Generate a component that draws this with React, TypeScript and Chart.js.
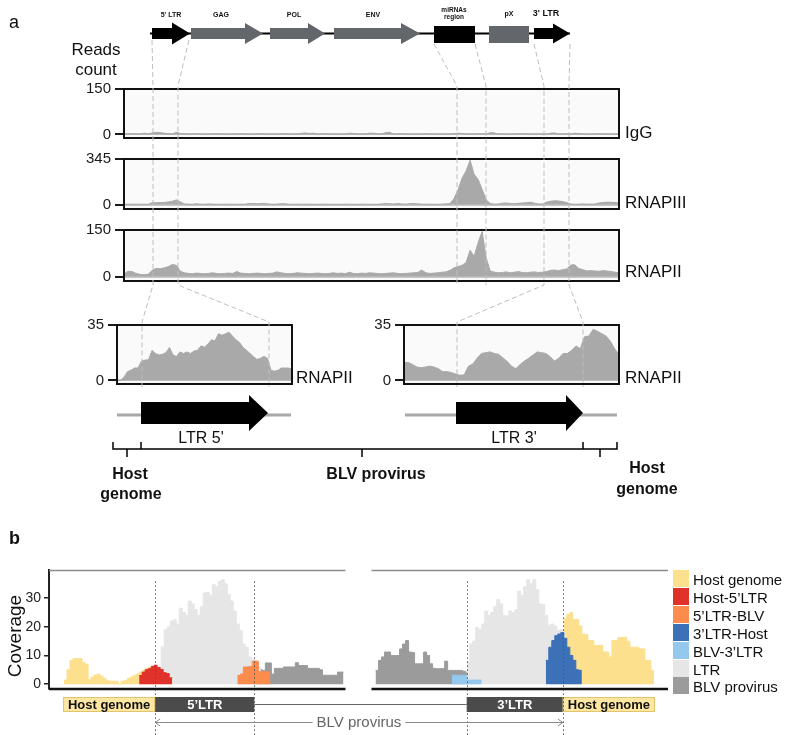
import React, { useEffect, useRef } from 'react';
import { Chart, registerables } from 'chart.js';

Chart.register(...registerables);

const FONT = '"Liberation Sans", Arial, Helvetica, sans-serif';
Chart.defaults.font.family = FONT;

// ---------------- Panel a : ChIP tracks (4px bins across the provirus) ----------------
const IGG = [1,1,2,1,1,4,1,5,7,6,4,2,1,7,3,2,
  1,1,2,1,1,1,1,2,1,1,1,1,1,2,1,1,1,1,2,1,1,1,1,1,2,1,1,1,
  3,5,3,4,1,1,2,1,1,1,1,1,4,3,1,1,1,4,4,1,1,6,7,
  1,1,2,1,1,1,1,1,2,1,1,1,1,1,1,2,4,3,1,1,1,2,1,1,6,5,
  1,1,1,1,1,2,1,2,1,1,1,1,1,4,5,1,1,2,1,4,3,1,1,1,1,2,1,1,1,1,1];
const RNAPIII = [3,2,3,2,2,3,2,14,13,15,16,20,25,35,20,5,
  3,2,6,3,2,5,3,2,2,3,2,2,2,3,2,7,8,6,7,8,4,2,3,6,6,2,2,3,
  2,2,3,2,2,2,3,2,2,2,2,3,2,2,2,3,2,2,2,2,
  5,7,6,4,7,5,3,6,7,5,3,2,3,2,2,3,5,
  8,45,110,200,255,335,230,190,115,35,8,
  3,4,10,12,8,6,9,12,14,18,10,5,4,18,25,29,27,22,15,4,3,3,5,3,3,4,12,15,18,17,16,10];
const RNAPII = [8,17,16,10,7,6,7,20,26,25,28,32,39,36,17,12,
  10,9,11,10,9,10,12,10,9,10,11,10,16,11,10,9,10,11,10,9,10,11,15,
  12,10,9,10,12,11,10,9,10,11,10,9,10,12,10,11,9,14,
  10,9,11,10,12,11,10,9,10,11,12,10,9,10,11,12,13,21,12,10,11,12,14,
  15,20,28,32,36,45,85,65,110,145,60,18,
  14,12,13,15,12,14,16,13,12,14,15,13,14,16,20,21,19,22,24,37,38,26,
  22,18,19,18,17,19,18,16,14,12];
const IGG_TICKS = [0, 150];
const RNAPIII_TICKS = [0, 345];
const RNAPII_TICKS = [0, 150];

// zoom on the two LTRs (RNAPII)
const ZOOM_5LTR = [0,0,2,5.5,6.4,7.8,7.8,12.2,12.8,13,18.9,17,16,16.5,17.5,20.8,16,15.1,18,17,
  18,17,18.5,19,21.8,21,23,25.6,25,29.5,28.5,29.5,30.4,28,25.6,24,20.8,19,17,15,
  13.2,14,15.1,14,6.4,5.8,6.4,7.8,7.8,7.8,7];
const ZOOM_3LTR = [11.3,11.3,10,8.4,8,8.4,9,8.4,7.4,5.5,5.5,5,4,3.2,3.5,9,10.3,14,17,17.5,
  18,17,16.5,14.2,12,9,7.4,10,12.2,14,16,18,17.5,17,15,12.2,14,17,17,19,
  21.8,20,27.6,28,32.3,31,29.5,28,24.7,20,16];
const ZOOM_TICKS = [0, 35];

// ---------------- Panel b : coverage (3px bins) ----------------
const HOST_LEFT = [1.4,5,8.3,8.9,8.9,8.9,7.5,7,1.5,2.5,3.2,3.5,2.8,2,1.2,1,1,1,0,1,1.2,2,2.5,3,3.5,4.2,4.8,5.5,5.8,6,6];
const HOST_5LTR = [3,4.2,5,5.4,6.2,6.6,5.8,5.1,4,3.7,2.2];
const LTR_LEFT = [2,6,13,19,20,22,22.5,21,26.5,25,24,29,28,26,24,27,31.8,32,31,34.7,34,35.9,36.5,35,31.3,29,25.5,21,18.6,14,12.9,9.5,8.5,7.7,6,4];
const LTR5_BLV = [3,3.5,6,6,6.2,8,8,4.3,4.3,4.3,4.3];
const BLV_LEFT = [8,5,5,4.8,7.4,7.4,3.5,5.5,5.5,5.5,6,6,6,6,7.5,6.5,6.5,6.5,5.5,5.5,5.5,5.5,5,3.1,3.1,3.1,3.1,3.1,4.2,4.2];
const BLV_RIGHT = [4.8,8.3,9.5,11.2,11.2,10,10,10,12.3,14,15.2,11.2,11,7.1,7.1,7.1,11.2,10,7.1,5.5,5.4,5.4,5.4,8,4.8,4.8,4.8,4.8,4.8,4.5,4];
const BLV_3LTR = [3.1,3.1,3.1,3.1,3.1,1.4,1.4,1.4,1.4,1.4];
const LTR_RIGHT = [8,14,15,19.8,19,21,25.5,24,25,27,29.5,28,24,23.8,25.5,25,26,32.4,31,34,36.4,35,36.4,33,28,27.8,24,20.3,21,20.3,18.6,19,18];
const LTR3_HOST = [8.3,12.9,15.2,16.9,17.5,18,16,12.9,10,8.3,5,4.8];
const HOST_RIGHT = [23,24.4,25,22.6,22.6,20.3,17.4,17.4,15.2,15.2,13.5,13.5,13.5,11.2,11.2,9.5,15.2,15.2,16.3,16.3,16.3,15,12.9,12.9,12.9,12.3,12.3,8.3,8.3,4.8];
const SERIES_START = [5, 30, 35.33, 62.67, 68, 108.67, 134, 139, 165.33, 171.33];
const COV_TICKS = [0, 10, 20, 30];
const PANELS: [number, number][] = [[0, 98.67], [107.33, 206]];
const REGION_LABELS = ['Host genome', '5\u2019LTR', '3\u2019LTR', 'Host genome'];
const REGION_START = [4.67, 35.33, 139, 171];
const REGION_END = [35.33, 68.33, 171, 201.67];

const C_HOST = '#fde08e';
const C_H5 = '#e0312b';
const C_5B = '#fc8c4e';
const C_3H = '#3c70b7';
const C_B3 = '#94c8ec';
const C_LTR = '#e6e6e6';
const C_BLV = '#9b9b9b';
const LEGEND_LABELS = ['Host genome', 'Host-5\u2019LTR', '5\u2019LTR-BLV', '3\u2019LTR-Host', 'BLV-3\u2019LTR', 'LTR', 'BLV provirus'];
const LEGEND_COLORS = [C_HOST, C_H5, C_5B, C_3H, C_B3, C_LTR, C_BLV];

// ---------------- helpers ----------------
const boxPlugin = {
  id: 'boxFrame',
  beforeDraw(chart: any) {
    const { ctx, chartArea: a } = chart;
    ctx.save();
    ctx.fillStyle = '#fafafa';
    ctx.fillRect(a.left, a.top, a.right - a.left, a.bottom - a.top);
    ctx.restore();
  },
  afterDatasetsDraw(chart: any) {
    const { ctx, chartArea: a } = chart;
    ctx.save();
    ctx.strokeStyle = '#111';
    ctx.lineWidth = 2;
    ctx.strokeRect(a.left, a.top, a.right - a.left, a.bottom - a.top);
    ctx.restore();
  },
};

function trackConfig(values: number[], ticks: number[], yMin: number, axisW: number) {
  const max = ticks[ticks.length - 1];
  return {
    type: 'line',
    data: {
      datasets: [{
        data: values.map((v, i) => ({ x: i, y: v })),
        fill: 'origin',
        backgroundColor: '#a9a9a9',
        borderColor: '#a9a9a9',
        borderWidth: 1,
        pointRadius: 0,
        tension: 0,
      }],
    },
    options: {
      responsive: false,
      animation: false,
      devicePixelRatio: 1,
      events: [],
      layout: { padding: { top: 10, bottom: 10, left: 0, right: 2 } },
      plugins: { legend: { display: false }, tooltip: { enabled: false } },
      scales: {
        x: { type: 'linear', display: false, min: 0, max: values.length - 1 },
        y: {
          min: yMin,
          max,
          afterBuildTicks: (s: any) => { s.ticks = ticks.map((v) => ({ value: v })); },
          afterFit: (s: any) => { s.width = axisW; },
          ticks: { font: { size: 15, family: FONT }, color: '#1a1a1a', padding: 4 },
          grid: {
            drawOnChartArea: true,
            color: (c: any) => (c.tick && c.tick.value === 0 ? '#c6c6c6' : 'rgba(0,0,0,0)'),
            tickColor: '#1a1a1a',
            tickLength: 9,
            lineWidth: 2,
          },
          border: { display: false },
        },
      },
    },
    plugins: [boxPlugin],
  };
}

function stepPoints(values: number[], start: number) {
  const pts = values.map((v, i) => ({ x: start + i, y: v }));
  pts.push({ x: start + values.length, y: values[values.length - 1] });
  return pts;
}

const covDecor = {
  id: 'covDecor',
  afterDatasetsDraw(chart: any) {
    const { ctx, chartArea: a, scales } = chart;
    const px = (v: number) => scales.x.getPixelForValue(v);
    ctx.save();
    // panel frames
    for (const [s, e] of PANELS) {
      ctx.strokeStyle = '#8c8c8c';
      ctx.lineWidth = 1.5;
      ctx.beginPath(); ctx.moveTo(px(s), a.top); ctx.lineTo(px(e), a.top); ctx.stroke();
      ctx.strokeStyle = '#111';
      ctx.lineWidth = 2.5;
      ctx.beginPath(); ctx.moveTo(px(s), a.bottom); ctx.lineTo(px(e), a.bottom); ctx.stroke();
    }
    // region bars
    const barTop = a.bottom + 8;
    const barH = 15;
    ctx.strokeStyle = '#666';
    ctx.lineWidth = 1;
    ctx.beginPath();
    ctx.moveTo(px(REGION_END[1]), barTop + barH / 2);
    ctx.lineTo(px(REGION_START[2]), barTop + barH / 2);
    ctx.stroke();
    REGION_LABELS.forEach((lab, i) => {
      const x0 = px(REGION_START[i]);
      const x1 = px(REGION_END[i]);
      const host = lab.startsWith('Host');
      ctx.fillStyle = host ? '#fde7a2' : '#4b4b4b';
      ctx.fillRect(x0, barTop, x1 - x0, barH);
      if (host) {
        ctx.strokeStyle = '#e3c46e';
        ctx.lineWidth = 1;
        ctx.strokeRect(x0 + 0.5, barTop + 0.5, x1 - x0 - 1, barH - 1);
      }
      ctx.fillStyle = host ? '#111' : '#fff';
      ctx.font = `bold 13px ${FONT}`;
      ctx.textAlign = 'center';
      ctx.textBaseline = 'middle';
      ctx.fillText(lab, (x0 + x1) / 2, barTop + barH / 2 + 1);
    });
    // dotted boundaries
    ctx.strokeStyle = '#555';
    ctx.lineWidth = 1;
    ctx.setLineDash([1.5, 2.5]);
    [REGION_START[1], REGION_END[1], REGION_START[2], REGION_END[2]].forEach((v) => {
      const x = Math.round(px(v)) + 0.5;
      ctx.beginPath(); ctx.moveTo(x, a.top + 11); ctx.lineTo(x, chart.height); ctx.stroke();
    });
    ctx.setLineDash([]);
    // BLV provirus arrow
    const y = a.bottom + 33.5;
    const xl = px(REGION_START[1]);
    const xr = px(REGION_END[2]);
    const xm = (xl + xr) / 2;
    ctx.font = `15px ${FONT}`;
    const tw = ctx.measureText('BLV provirus').width;
    ctx.fillStyle = '#666';
    ctx.textAlign = 'center';
    ctx.textBaseline = 'middle';
    ctx.fillText('BLV provirus', xm, y);
    ctx.strokeStyle = '#8a8a8a';
    ctx.lineWidth = 1;
    ctx.beginPath();
    ctx.moveTo(xl, y); ctx.lineTo(xm - tw / 2 - 4, y);
    ctx.moveTo(xm + tw / 2 + 4, y); ctx.lineTo(xr, y);
    ctx.moveTo(xl + 5, y - 3.5); ctx.lineTo(xl, y); ctx.lineTo(xl + 5, y + 3.5);
    ctx.moveTo(xr - 5, y - 3.5); ctx.lineTo(xr, y); ctx.lineTo(xr - 5, y + 3.5);
    ctx.stroke();
    ctx.restore();
  },
};

function coverageConfig() {
  const list: [number[], string, number][] = [
    [HOST_LEFT, C_HOST, 2], [HOST_5LTR, C_H5, 0], [LTR_LEFT, C_LTR, 1], [LTR5_BLV, C_5B, 0],
    [BLV_LEFT, C_BLV, 2], [BLV_RIGHT, C_BLV, 2], [BLV_3LTR, C_B3, 0], [LTR_RIGHT, C_LTR, 1],
    [LTR3_HOST, C_3H, 0], [HOST_RIGHT, C_HOST, 2],
  ];
  return {
    type: 'line',
    data: {
      datasets: list.map(([vals, col, order], i) => ({
        data: stepPoints(vals, SERIES_START[i]),
        stepped: 'before',
        fill: 'origin',
        backgroundColor: col,
        borderColor: col,
        borderWidth: 1,
        pointRadius: 0,
        order,
      })),
    },
    options: {
      responsive: false,
      animation: false,
      devicePixelRatio: 1,
      events: [],
      layout: { padding: { top: 10, bottom: 46, left: 0, right: 4 } },
      plugins: { legend: { display: false }, tooltip: { enabled: false } },
      scales: {
        x: { type: 'linear', display: false, min: 0, max: 206 },
        y: {
          min: -1.7,
          max: 39.7,
          afterBuildTicks: (s: any) => { s.ticks = COV_TICKS.map((v) => ({ value: v })); },
          afterFit: (s: any) => { s.width = 49; },
          ticks: { font: { size: 14, family: FONT }, color: '#222', padding: 3 },
          grid: { drawOnChartArea: false, color: '#222', tickColor: '#222', tickLength: 5, lineWidth: 1.5 },
          border: { display: true, color: '#222', width: 2 },
        },
      },
    },
    plugins: [covDecor],
  };
}

function ChartCanvas({ left, top, width, height, make }: { left: number; top: number; width: number; height: number; make: () => any }) {
  const ref = useRef<HTMLCanvasElement>(null);
  useEffect(() => {
    const chart = new Chart(ref.current as HTMLCanvasElement, make());
    return () => chart.destroy();
  }, []);
  return (
    <canvas ref={ref} width={width} height={height}
      style={{ position: 'absolute', left, top, width, height, display: 'block' }} />
  );
}

function T({ x, y, children, size = 16, bold = false, anchor = 'middle', color = '#111', rotate = 0 }: any) {
  const tx = anchor === 'middle' ? '-50%' : anchor === 'end' ? '-100%' : '0';
  return (
    <div style={{
      position: 'absolute', left: x, top: y,
      transform: `translate(${tx}, -50%)${rotate ? ` rotate(${rotate}deg)` : ''}`,
      fontFamily: FONT, fontSize: size, fontWeight: bold ? 700 : 400, color,
      whiteSpace: 'nowrap', lineHeight: 1,
    }}>{children}</div>
  );
}

function arrowPts(x0: number, hx: number, x1: number, yc: number, bh: number, hh: number) {
  return `${x0},${yc - bh / 2} ${hx},${yc - bh / 2} ${hx},${yc - hh / 2} ${x1},${yc} ${hx},${yc + hh / 2} ${hx},${yc + bh / 2} ${x0},${yc + bh / 2}`;
}

const GENE_GRAY = '#63666a';
const DASH = { stroke: '#bdbdbd', strokeWidth: 1, strokeDasharray: '5 3', fill: 'none' };

function Diagram() {
  return (
    <svg width={787} height={735} style={{ position: 'absolute', left: 0, top: 0, pointerEvents: 'none' }}>
      {/* genome map */}
      <line x1={150} y1={33.5} x2={570} y2={33.5} stroke="#000" strokeWidth={2} />
      <polygon points={arrowPts(152, 172, 190, 33.5, 11, 22)} fill="#000" />
      <polygon points={arrowPts(191, 245, 263, 33.5, 11, 21)} fill={GENE_GRAY} />
      <polygon points={arrowPts(270, 308, 325, 33.5, 11, 21)} fill={GENE_GRAY} />
      <polygon points={arrowPts(334, 401, 420, 33.5, 11, 21)} fill={GENE_GRAY} />
      <rect x={434} y={26} width={41} height={17} fill="#000" />
      <rect x={489} y={26} width={40} height={17} fill={GENE_GRAY} />
      <polygon points={arrowPts(534, 553, 570, 33.5, 11, 20)} fill="#000" />
      {/* dashed connectors */}
      <polyline points="152,40 153,86 153,285 142,322 142,387" {...DASH} />
      <polyline points="189,40 178,86 178,285 269,322 269,387" {...DASH} />
      <polyline points="434,44 457,86 457,285" {...DASH} />
      <polyline points="475,44 486,86 486,285" {...DASH} />
      <polyline points="534,44 544,86 544,285 457,322 457,387" {...DASH} />
      <polyline points="570,44 569,86 569,285 583,322 583,387" {...DASH} />
      {/* LTR schematics */}
      <line x1={117} y1={415} x2={291} y2={415} stroke="#a8a8a8" strokeWidth={3} />
      <polygon points={arrowPts(141, 249, 268, 413, 22, 36)} fill="#000" />
      <line x1={405} y1={415} x2={617} y2={415} stroke="#a8a8a8" strokeWidth={3} />
      <polygon points={arrowPts(456, 566, 583, 413, 22, 36)} fill="#000" />
      {/* braces */}
      <path d="M113,442 L113,449 L617,449 L617,442 M141,442 L141,449 M583,442 L583,449 M127,449 L127,457 M362,449 L362,457 M600,449 L600,457"
        stroke="#000" strokeWidth={1.5} fill="none" />
    </svg>
  );
}

export default function App() {
  return (
    <div style={{ position: 'absolute', left: 0, top: 0, width: 787, height: 735, background: '#fff', overflow: 'hidden' }}>
      <ChartCanvas left={50} top={76} width={571} height={75} make={() => trackConfig(IGG, IGG_TICKS, -11.8, 74)} />
      <ChartCanvas left={50} top={146} width={571} height={76} make={() => trackConfig(RNAPIII, RNAPIII_TICKS, -33.8, 74)} />
      <ChartCanvas left={50} top={217} width={571} height={77} make={() => trackConfig(RNAPII, RNAPII_TICKS, -14.4, 74)} />
      <ChartCanvas left={57} top={312} width={237} height={85} make={() => trackConfig(ZOOM_5LTR, ZOOM_TICKS, -2.3, 60)} />
      <ChartCanvas left={344} top={312} width={277} height={85} make={() => trackConfig(ZOOM_3LTR, ZOOM_TICKS, -2.3, 60)} />
      <ChartCanvas left={0} top={559} width={672} height={176} make={coverageConfig} />
      <Diagram />

      {/* panel a texts */}
      <T x={9} y={22} size={18} anchor="start">a</T>
      <T x={96} y={49} size={17}>Reads</T>
      <T x={96} y={69} size={17}>count</T>
      <T x={171} y={14} size={7} bold>5' LTR</T>
      <T x={221} y={14} size={7} bold>GAG</T>
      <T x={294} y={14} size={7} bold>POL</T>
      <T x={373} y={14} size={7} bold>ENV</T>
      <T x={454} y={10} size={6.5} bold>miRNAs</T>
      <T x={454} y={17} size={6.5} bold>region</T>
      <T x={509} y={13} size={7} bold>pX</T>
      <T x={546} y={13} size={9} bold>3' LTR</T>
      <T x={625} y={132} size={17} anchor="start">IgG</T>
      <T x={625} y={202} size={17} anchor="start">RNAPIII</T>
      <T x={625} y={271} size={17} anchor="start">RNAPII</T>
      <T x={296} y={377} size={17} anchor="start">RNAPII</T>
      <T x={625} y={377} size={17} anchor="start">RNAPII</T>
      <T x={201} y={438} size={16}>LTR 5'</T>
      <T x={514} y={438} size={16}>LTR 3'</T>
      <T x={130} y={474} size={16} bold>Host</T>
      <T x={131} y={494} size={16} bold>genome</T>
      <T x={376} y={474} size={16} bold>BLV provirus</T>
      <T x={647} y={468} size={16} bold>Host</T>
      <T x={647} y={489} size={16} bold>genome</T>

      {/* panel b texts */}
      <T x={9} y={538} size={18} bold anchor="start">b</T>
      <T x={14} y={636} size={19} rotate={-90}>Coverage</T>
      {LEGEND_LABELS.map((lab, i) => (
        <React.Fragment key={lab}>
          <div style={{ position: 'absolute', left: 673, top: 570 + i * 17.9, width: 16, height: 17, background: LEGEND_COLORS[i] }} />
          <T x={693} y={579 + i * 17.9} size={15} anchor="start">{lab}</T>
        </React.Fragment>
      ))}
    </div>
  );
}
